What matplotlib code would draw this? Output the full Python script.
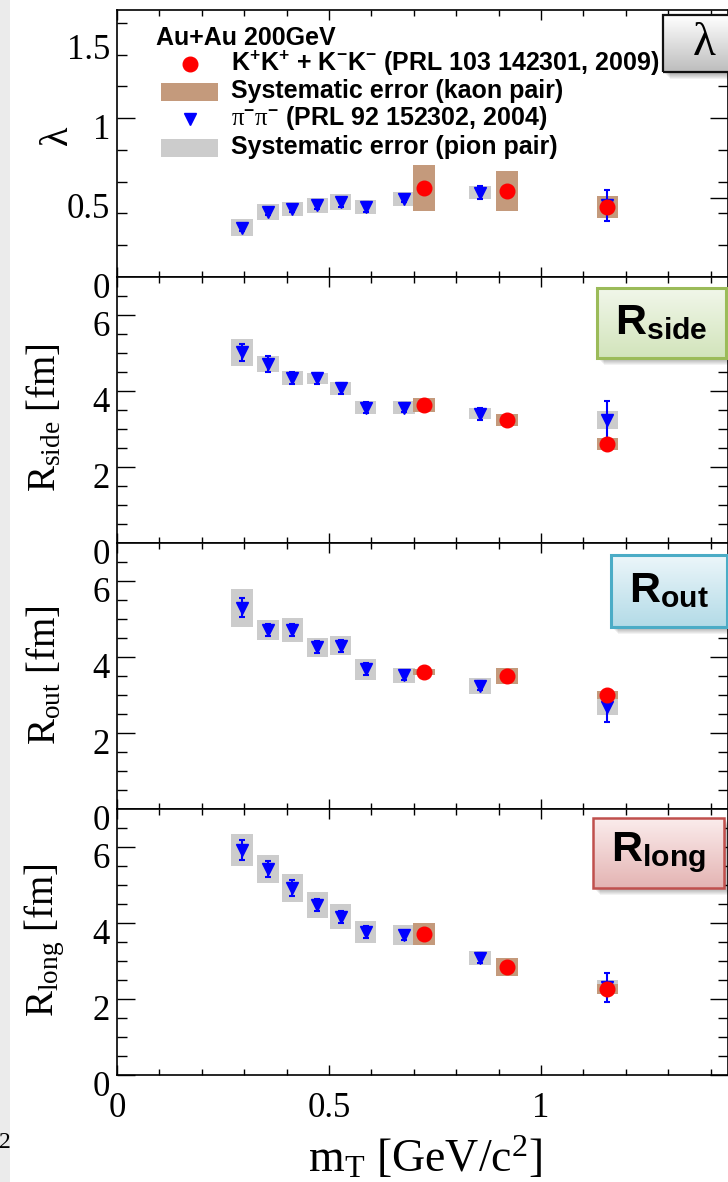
import numpy as np
import matplotlib
matplotlib.use("Agg")
from matplotlib import pyplot as plt
from matplotlib.patches import Rectangle
from matplotlib.lines import Line2D
from matplotlib.transforms import ScaledTranslation, Bbox, TransformedBbox
from matplotlib.colors import to_rgb

plt.rcParams['mathtext.fontset'] = 'custom'
plt.rcParams['mathtext.rm'] = 'Liberation Serif'
plt.rcParams['mathtext.it'] = 'Liberation Serif:italic'
plt.rcParams['mathtext.bf'] = 'Liberation Sans:bold'
plt.rcParams['mathtext.sf'] = 'Liberation Sans'

# pion pairs (PRL 92 152302)
pi_mt = [0.295, 0.356, 0.413, 0.472, 0.528, 0.587, 0.677, 0.856, 1.156]
pi_lam = [0.31, 0.41, 0.43, 0.45, 0.47, 0.44, 0.49, 0.53, 0.45]
pi_lam_stat = [0.02, 0.02, 0.02, 0.02, 0.03, 0.03, 0.02, 0.04, 0.10]
pi_lam_sys = [0.055, 0.05, 0.045, 0.045, 0.05, 0.045, 0.045, 0.04, 0.045]
pi_side = [5.02, 4.71, 4.34, 4.33, 4.07, 3.56, 3.56, 3.40, 3.24]
pi_side_stat = [0.22, 0.20, 0.15, 0.15, 0.15, 0.15, 0.12, 0.15, 0.50]
pi_side_sys = [0.36, 0.21, 0.18, 0.14, 0.17, 0.17, 0.17, 0.14, 0.23]
pi_out = [5.29, 4.71, 4.71, 4.26, 4.29, 3.68, 3.52, 3.24, 2.69]
pi_out_stat = [0.25, 0.15, 0.15, 0.15, 0.15, 0.15, 0.12, 0.12, 0.40]
pi_out_sys = [0.49, 0.26, 0.31, 0.25, 0.25, 0.28, 0.20, 0.22, 0.22]
pi_long = [5.92, 5.42, 4.92, 4.47, 4.16, 3.76, 3.68, 3.08, 2.31]
pi_long_stat = [0.26, 0.20, 0.20, 0.15, 0.15, 0.15, 0.12, 0.12, 0.38]
pi_long_sys = [0.43, 0.37, 0.36, 0.34, 0.33, 0.28, 0.26, 0.18, 0.18]

# kaon pairs (PRL 103 142301)
k_mt = [0.724, 0.920, 1.156]
k_lam = [0.56, 0.54, 0.44]
k_lam_stat = [0.03, 0.03, 0.03]
k_lam_sys = [0.145, 0.125, 0.07]
k_side = [3.64, 3.24, 2.60]
k_side_stat = [0.08, 0.08, 0.08]
k_side_sys = [0.18, 0.16, 0.16]
k_out = [3.61, 3.50, 3.00]
k_out_stat = [0.08, 0.08, 0.08]
k_out_sys = [0.08, 0.20, 0.10]
k_long = [3.71, 2.84, 2.26]
k_long_stat = [0.08, 0.08, 0.08]
k_long_sys = [0.30, 0.23, 0.14]

x_ticks = [0, 0.5, 1]
x_ticklabels = ['0', '0.5', '1']

W, H = 728, 1182
fig = plt.figure(figsize=(W / 100, H / 100), dpi=100)


def fx(px):
    return px / W


def fy(py):
    return 1 - py / H


# grey strip on the left edge with a clipped footer
strip = Rectangle((0, 0), fx(10), 1, transform=fig.transFigure,
                  color='#ebebeb', lw=0, zorder=0)
fig.add_artist(strip)
foot = fig.text(fx(-1), fy(1142), '20', fontsize=17, family='Liberation Serif',
                va='center', ha='left')
foot.set_clip_box(TransformedBbox(Bbox([[0, 0], [fx(10), 1]]), fig.transFigure))

serif = 'Liberation Serif'
tops = [10, 277, 543, 809]
bots = [277, 543, 809, 1075]
left, right = 117, 727.5
xmax = (right - left) / 424.0

panels = [
    (pi_lam, pi_lam_stat, pi_lam_sys, k_lam, k_lam_stat, k_lam_sys),
    (pi_side, pi_side_stat, pi_side_sys, k_side, k_side_stat, k_side_sys),
    (pi_out, pi_out_stat, pi_out_sys, k_out, k_out_stat, k_out_sys),
    (pi_long, pi_long_stat, pi_long_sys, k_long, k_long_stat, k_long_sys),
]

shift = ScaledTranslation(0, -8 / 100, fig.dpi_scale_trans)
axes = []
for i, (py_, ps_, pe_, ky_, ks_, ke_) in enumerate(panels):
    t, b = tops[i], bots[i]
    ax = fig.add_axes([fx(left), fy(b), fx(right) - fx(left), (b - t) / H])
    axes.append(ax)
    ax.set_xlim(0, xmax)
    hw = 0.025
    for xi, yi, si in zip(pi_mt, py_, pe_):
        ax.add_patch(Rectangle((xi - hw, yi - si), 2 * hw, 2 * si,
                               color='#cccccc', lw=0, zorder=1))
    for xi, yi, si in zip(k_mt, ky_, ke_):
        ax.add_patch(Rectangle((xi - hw, yi - si), 2 * hw, 2 * si,
                               color='#c49a7c', lw=0, zorder=2))
    ax.errorbar(pi_mt, py_, yerr=ps_, fmt='none', ecolor='blue',
                elinewidth=1.5, capsize=2.5, capthick=1.5, zorder=3)
    ax.plot(pi_mt, py_, 'v', color='blue', ms=9, zorder=4)
    ax.errorbar(k_mt, ky_, yerr=ks_, fmt='none', ecolor='red',
                elinewidth=1.5, capsize=2, capthick=1.5, zorder=5)
    ax.plot(k_mt, ky_, 'o', color='red', ms=10.5, zorder=6)

    ax.set_xticks(x_ticks)
    ax.set_xticklabels(x_ticklabels)
    ax.set_xticks(np.arange(0.1, 1.45, 0.1), minor=True)
    if i == 0:
        ax.set_ylim(0, 1.68)
        ax.set_yticks([0, 0.5, 1, 1.5])
        ax.set_yticklabels(['0', '0.5', '1', '1.5'])
        ax.set_yticks([0.2, 0.4, 0.6, 0.8, 1.2, 1.4, 1.6], minor=True)
        for k in (1, 3):
            tk = ax.yaxis.get_major_ticks()[k]
            tk.tick1line.set_visible(False)
            tk.tick2line.set_visible(False)
    else:
        ax.set_ylim(0, 7)
        ax.set_yticks([0, 2, 4, 6])
        ax.set_yticklabels(['0', '2', '4', '6'])
        ax.set_yticks(np.arange(0.5, 7, 0.5), minor=True)
    ax.tick_params(which='both', direction='in', top=True, right=True,
                   width=1.0, labelsize=25, pad=5)
    ax.tick_params(axis='y', which='major', length=13)
    ax.tick_params(axis='y', which='minor', length=7)
    ax.tick_params(axis='x', which='major', length=7)
    ax.tick_params(axis='x', which='minor', length=4)
    for lab in ax.get_yticklabels():
        lab.set_family(serif)
        lab.set_transform(lab.get_transform() + shift)
    if i < 3:
        ax.tick_params(labelbottom=False)
    else:
        for lab in ax.get_xticklabels():
            lab.set_family(serif)
        ax.tick_params(axis='x', pad=12)
    for sp in ax.spines.values():
        sp.set_linewidth(1.2)

# y axis titles
fig.text(fx(58), fy(135), 'λ', rotation=90, family=serif, fontsize=29,
         ha='center', va='center')
fig.text(fx(45), fy(418), r'R$_{\rm side}$ [fm]', rotation=90, family=serif,
         fontsize=28, ha='center', va='center')
fig.text(fx(45), fy(675), r'R$_{\rm out}$ [fm]', rotation=90, family=serif,
         fontsize=28, ha='center', va='center')
fig.text(fx(45), fy(940), r'R$_{\rm long}$ [fm]', rotation=90, family=serif,
         fontsize=28, ha='center', va='center')
fig.text(fx(425), fy(1158), r'm$_{\rm T}$ [GeV/c$^{2}$]', family=serif,
         fontsize=33, ha='center', va='center')

# legend
bold = dict(family='Liberation Sans', fontweight='bold', fontsize=18,
            va='center', ha='left')
fig.text(fx(156), fy(38), 'Au+Au 200GeV', **bold)
fig.add_artist(Line2D([fx(190)], [fy(64)], marker='o', color='red', ms=10.5,
                      transform=fig.transFigure))
fig.text(fx(231), fy(63),
         r'$\mathbf{K^{+}K^{+}}$ + $\mathbf{K^{-}K^{-}}$ (PRL 103 142301, 2009)',
         **bold)
fig.add_artist(Rectangle((fx(161), fy(101)), fx(218) - fx(161), 18 / H,
                         transform=fig.transFigure, color='#c49a7c', lw=0))
fig.text(fx(231), fy(91), 'Systematic error (kaon pair)', **bold)
fig.add_artist(Line2D([fx(190)], [fy(119)], marker='v', color='blue', ms=9,
                      transform=fig.transFigure))
fig.text(fx(231), fy(118),
         r'$\mathrm{\pi}^{\mathbf{-}}\mathrm{\pi}^{\mathbf{-}}$ (PRL 92 152302, 2004)',
         **bold)
fig.add_artist(Rectangle((fx(161), fy(157)), fx(218) - fx(161), 18 / H,
                         transform=fig.transFigure, color='#cccccc', lw=0))
fig.text(fx(231), fy(147), 'Systematic error (pion pair)', **bold)


def tag(x0, y0, x1, y1, c_top, c_bot, edge, lw, label, size, fam):
    # soft drop shadow
    for k in range(6):
        off = 2 + k
        fig.add_artist(Rectangle((fx(x0 + off), fy(y1 + off)),
                                 fx(x1 - x0), (y1 - y0) / H,
                                 transform=fig.transFigure, color='black',
                                 alpha=0.05, lw=0, zorder=8))
    tax = fig.add_axes([fx(x0), fy(y1), fx(x1 - x0), (y1 - y0) / H], zorder=10)
    top, bot = np.array(to_rgb(c_top)), np.array(to_rgb(c_bot))
    s = np.linspace(0, 1, 64)[:, None, None]
    grad = top[None, None, :] * (1 - s) + bot[None, None, :] * s
    tax.imshow(grad, aspect='auto', extent=[0, 1, 0, 1])
    tax.set_xlim(0, 1)
    tax.set_ylim(0, 1)
    tax.axis('off')
    tax.add_patch(Rectangle((0, 0), 1, 1, transform=tax.transAxes, fill=False,
                            ec=edge, lw=lw, clip_on=False))
    tax.text(0.5, 0.5, label, ha='center', va='center', fontsize=size,
             family=fam, transform=tax.transAxes)


tag(663, 15, 745, 72, '#ffffff', '#bdbdbd', '#111111', 1.6, 'λ', 34, serif)
tag(597, 288, 726, 358, '#f1f7ea', '#d2e4bb', '#9bbb59', 2.2,
    r'$\mathbf{R}_{\mathbf{side}}$', 31, 'Liberation Sans')
tag(611, 555, 727, 627, '#ecf6fa', '#b3dbe7', '#4bacc6', 2.2,
    r'$\mathbf{R}_{\mathbf{out}}$', 31, 'Liberation Sans')
tag(593, 818, 724, 888, '#fbecec', '#e4b4b3', '#c0504d', 1.8,
    r'$\mathbf{R}_{\mathbf{long}}$', 31, 'Liberation Sans')

fig.savefig('out.png', dpi=100)
